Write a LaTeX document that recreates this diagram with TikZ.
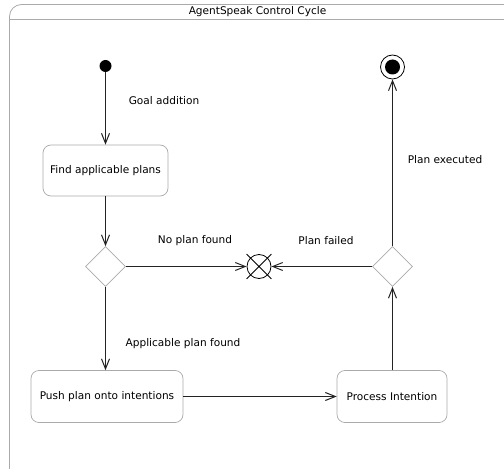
\documentclass[tikz,border=0pt]{standalone}
\usepackage{fontspec}
\setmainfont{DejaVu Sans}
\usetikzlibrary{arrows.meta,shapes.geometric,shapes.misc}
\definecolor{framegray}{RGB}{170,170,170}
\definecolor{linedark}{RGB}{35,35,35}
\tikzset{
  actbox/.style={draw=framegray, rounded corners=8bp, fill=white, font=\fontsize{10.6}{12}\selectfont, inner sep=0pt, line width=0.7pt},
  decis/.style={draw=framegray, diamond, minimum width=40bp, minimum height=40bp, inner sep=0pt, line width=0.7pt},
  flow/.style={draw=linedark, line width=1.6pt, -{Straight Barb[length=10bp,width=8bp,line width=1pt]}},
  lbl/.style={font=\fontsize{10.6}{12}\selectfont, inner sep=0pt},
}
\begin{document}
\begin{tikzpicture}[x=1bp,y=-1bp]
\useasboundingbox (0,0) rectangle (504,469);
\begin{scope}
\clip (0,0) rectangle (504,469);
\draw[framegray, line width=0.8pt, rounded corners=12bp] (9.5,4.5) rectangle (540,500);
\draw[framegray, line width=0.8pt] (9.5,19.5) -- (540,19.5);
\end{scope}
\node[lbl] (title) at (257.5,12) {AgentSpeak Control Cycle};

\node[circle, fill=black, minimum size=12bp, inner sep=0pt] (start) at (105.5,66) {};
\node[actbox, minimum width=125bp, minimum height=51bp] (find) at (105.5,170.5) {Find applicable plans};
\node[decis] (d1) at (105.5,266.5) {};
\node[circle, draw=black, line width=0.8pt, minimum size=24bp, inner sep=0pt, cross out] (fin) at (259,266.5) {};
\node[circle, draw=black, line width=0.8pt, minimum size=24bp, inner sep=0pt] (xc) at (259,266.5) {};
\node[decis] (d2) at (392.5,266.5) {};
\node[circle, draw=black, line width=0.8pt, minimum size=24bp, inner sep=0pt] (endo) at (392.5,67) {};
\node[circle, fill=black, minimum size=15bp, inner sep=0pt] (endi) at (392.5,67) {};
\node[actbox, minimum width=152bp, minimum height=52bp] (push) at (107,396.5) {Push plan onto intentions};
\node[actbox, minimum width=110bp, minimum height=52bp] (proc) at (392,396.5) {Process Intention};

\node[lbl] (l1) at (164,101) {Goal addition};
\node[lbl] (l2) at (195,241) {No plan found};
\node[lbl] (l3) at (326,241) {Plan failed};
\node[lbl] (l4) at (445,160) {Plan executed};
\node[lbl] (l5) at (183,344) {Applicable plan found};

\draw[flow] (start) -- (find);
\draw[flow] (find) -- (d1);
\draw[flow] (d1) -- (xc);
\draw[flow] (d2) -- (xc);
\draw[flow] (d2) -- (endo);
\draw[flow] (d1) -- (push.north -| d1);
\draw[flow] (push) -- (proc);
\draw[flow] (proc.north -| d2) -- (d2);
\end{tikzpicture}
\end{document}
